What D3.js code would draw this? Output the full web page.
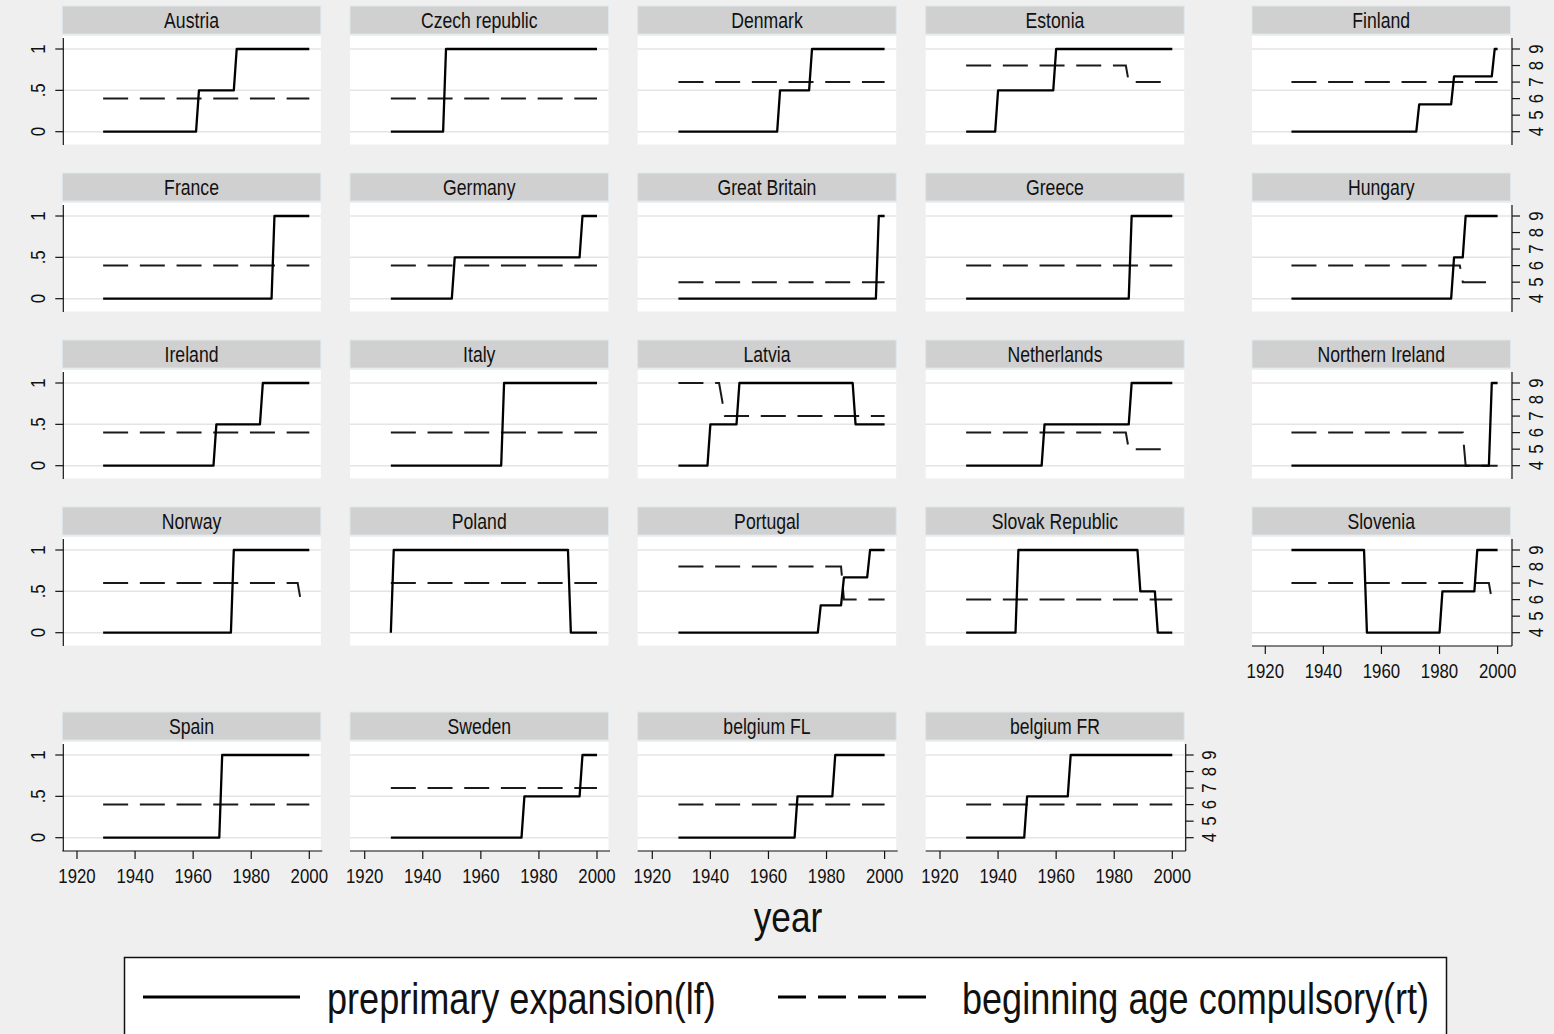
<!DOCTYPE html>
<html>
<head>
<meta charset="utf-8">
<script src="https://cdn.jsdelivr.net/npm/d3@7"></script>
<style>
  html, body { margin: 0; padding: 0; background: #efefef; }
  svg { display: block; }
</style>
</head>
<body>
<svg id="chart" width="1554" height="1034"></svg>
<script>
// ---------------- DATA ----------------
const countries = ["Austria", "Czech republic", "Denmark", "Estonia", "Finland",
  "France", "Germany", "Great Britain", "Greece", "Hungary",
  "Ireland", "Italy", "Latvia", "Netherlands", "Northern Ireland",
  "Norway", "Poland", "Portugal", "Slovak Republic", "Slovenia",
  "Spain", "Sweden", "belgium FL", "belgium FR"];

// preprimary expansion (left axis, 0-1): [year, value] vertices
const preprimary = [
  [[1929,0],[1961,0],[1962,0.5],[1974,0.5],[1975,1],[2000,1]],
  [[1929,0],[1947,0],[1948,1],[2000,1]],
  [[1929,0],[1963,0],[1964,0.5],[1974,0.5],[1975,1],[2000,1]],
  [[1929,0],[1939,0],[1940,0.5],[1959,0.5],[1960,1],[2000,1]],
  [[1929,0],[1972,0],[1973,0.33],[1984,0.33],[1985,0.67],[1998,0.67],[1999,1],[2000,1]],
  [[1929,0],[1987,0],[1988,1],[2000,1]],
  [[1929,0],[1950,0],[1951,0.5],[1994,0.5],[1995,1],[2000,1]],
  [[1929,0],[1997,0],[1998,1],[2000,1]],
  [[1929,0],[1985,0],[1986,1],[2000,1]],
  [[1929,0],[1984,0],[1985,0.5],[1988,0.5],[1989,1],[2000,1]],
  [[1929,0],[1967,0],[1968,0.5],[1983,0.5],[1984,1],[2000,1]],
  [[1929,0],[1967,0],[1968,1],[2000,1]],
  [[1929,0],[1939,0],[1940,0.5],[1949,0.5],[1950,1],[1989,1],[1990,0.5],[2000,0.5]],
  [[1929,0],[1955,0],[1956,0.5],[1985,0.5],[1986,1],[2000,1]],
  [[1929,0],[1997,0],[1998,1],[2000,1]],
  [[1929,0],[1973,0],[1974,1],[2000,1]],
  [[1929,0],[1930,1],[1990,1],[1991,0],[2000,0]],
  [[1929,0],[1977,0],[1978,0.33],[1985,0.33],[1986,0.67],[1994,0.67],[1995,1],[2000,1]],
  [[1929,0],[1946,0],[1947,1],[1988,1],[1989,0.5],[1994,0.5],[1995,0],[2000,0]],
  [[1929,1],[1954,1],[1955,0],[1980,0],[1981,0.5],[1992,0.5],[1993,1],[2000,1]],
  [[1929,0],[1969,0],[1970,1],[2000,1]],
  [[1929,0],[1974,0],[1975,0.5],[1994,0.5],[1995,1],[2000,1]],
  [[1929,0],[1969,0],[1970,0.5],[1982,0.5],[1983,1],[2000,1]],
  [[1929,0],[1949,0],[1950,0.5],[1964,0.5],[1965,1],[2000,1]]
];

// beginning age compulsory (right axis, 4-9): [year, age] vertices
const beginAge = [
  [[1929,6],[2000,6]],
  [[1929,6],[2000,6]],
  [[1929,7],[2000,7]],
  [[1929,8],[1984,8],[1985,7],[2000,7]],
  [[1929,7],[2000,7]],
  [[1929,6],[2000,6]],
  [[1929,6],[2000,6]],
  [[1929,5],[2000,5]],
  [[1929,6],[2000,6]],
  [[1929,6],[1987,6],[1988,5],[2000,5]],
  [[1929,6],[2000,6]],
  [[1929,6],[2000,6]],
  [[1929,9],[1943,9],[1945,7],[2000,7]],
  [[1929,6],[1984,6],[1985,5],[2000,5]],
  [[1929,6],[1988,6],[1989,4],[2000,4]],
  [[1929,7],[1996,7],[1997,6],[2000,6]],
  [[1929,7],[2000,7]],
  [[1929,8],[1985,8],[1986,6],[2000,6]],
  [[1929,6],[2000,6]],
  [[1929,7],[1997,7],[1998,6],[2000,6]],
  [[1929,6],[2000,6]],
  [[1929,7],[2000,7]],
  [[1929,6],[2000,6]],
  [[1929,6],[2000,6]]
];

const leftTicks = [0, 0.5, 1];
const leftTickLabels = ["0", ".5", "1"];
const rightTicks = [4, 5, 6, 7, 8, 9];
const yearTicks = [1920, 1940, 1960, 1980, 2000];
const xTitle = "year";
const legendLabels = ["preprimary expansion(lf)", "beginning age compulsory(rt)"];

// ---------------- LAYOUT ----------------
const svg = d3.select("#chart");
svg.append("rect").attr("width", 1554).attr("height", 1034).attr("fill", "#efefef");

// font detection
const probe = svg.append("text").attr("x", -1000).attr("y", -1000).style("font-size", "20px").text("abcdefghij 1920 Austria");
probe.style("font-family", '"Liberation Sans Narrow", monospace');
const wNarrow = probe.node().getComputedTextLength();
probe.style("font-family", "monospace");
const wMono = probe.node().getComputedTextLength();
probe.remove();
const hasNarrow = Math.abs(wNarrow - wMono) > 1;
const FONT = hasNarrow ? '"Liberation Sans Narrow"' : '"Liberation Sans", Arial, sans-serif';
const SX = hasNarrow ? 1 : 0.82;

function addText(parent, x, y, str, size, anchor, rot) {
  return parent.append("text")
    .attr("transform", `translate(${x},${y}) rotate(${rot || 0}) scale(${SX},1)`)
    .attr("text-anchor", anchor || "middle")
    .style("font-family", FONT)
    .style("font-size", size + "px")
    .attr("fill", "#111")
    .text(str);
}

const colX1920 = [77, 364.7, 652.3, 940, 1265.3];
const plotLeft = [62.3, 350, 637.7, 925.7, 1252];
const rowTop = [6, 173, 340, 507, 712];
const PW = 258.5;
const pxPerYear = 232.3 / 80;

countries.forEach((name, i) => {
  const row = i < 20 ? Math.floor(i / 5) : 4;
  const col = i < 20 ? i % 5 : i - 20;
  const T = rowTop[row];
  const L = plotLeft[col];
  const R = L + PW;
  const g = svg.append("g");

  const x = d3.scaleLinear().domain([1920, 2000]).range([colX1920[col], colX1920[col] + 80 * pxPerYear]);
  const yL = d3.scaleLinear().domain([0, 1]).range([T + 125.7, T + 43]);
  const yR = d3.scaleLinear().domain([4, 9]).range([T + 125.7, T + 43]);

  // title bar
  g.append("rect").attr("x", L).attr("y", T).attr("width", PW).attr("height", 28)
    .attr("fill", "#d0d0d0").attr("stroke", "#dde7ee").attr("stroke-width", 1);
  addText(g, L + PW / 2, T + 21.7, name, 21.5, "middle");

  // plot region
  g.append("rect").attr("x", L).attr("y", T + 30).attr("width", PW).attr("height", 108.5).attr("fill", "#ffffff");

  // gridlines
  g.selectAll(".grid").data(leftTicks).enter().append("line")
    .attr("x1", L).attr("x2", R)
    .attr("y1", d => yL(d)).attr("y2", d => yL(d))
    .attr("stroke", "#e4e4e4").attr("stroke-width", 1.5);

  // left axis
  if (col === 0) {
    g.append("line").attr("x1", L + 1).attr("x2", L + 1).attr("y1", T + 32).attr("y2", T + 139)
      .attr("stroke", "#111").attr("stroke-width", 1.2);
    leftTicks.forEach((t, k) => {
      g.append("line").attr("x1", L - 7).attr("x2", L + 1).attr("y1", yL(t)).attr("y2", yL(t))
        .attr("stroke", "#111").attr("stroke-width", 1.2);
      addText(g, L - 17, yL(t), leftTickLabels[k], 20.5, "middle", -90);
    });
  }

  // right axis
  if (col === 4 || i === countries.length - 1) {
    const ax = R + 1.5;
    g.append("line").attr("x1", ax).attr("x2", ax).attr("y1", T + 32).attr("y2", T + 139)
      .attr("stroke", "#111").attr("stroke-width", 1.2);
    rightTicks.forEach(t => {
      g.append("line").attr("x1", ax).attr("x2", ax + 8).attr("y1", yR(t)).attr("y2", yR(t))
        .attr("stroke", "#111").attr("stroke-width", 1.2);
      addText(g, ax + 30.5, yR(t), String(t), 20.5, "middle", -90);
    });
  }

  // bottom axis
  if (row === 4 || i === 19) {
    const by = T + 139;
    g.append("line").attr("x1", L).attr("x2", R + 1.5).attr("y1", by).attr("y2", by)
      .attr("stroke", "#111").attr("stroke-width", 1.2);
    yearTicks.forEach(t => {
      g.append("line").attr("x1", x(t)).attr("x2", x(t)).attr("y1", by).attr("y2", by + 8)
        .attr("stroke", "#111").attr("stroke-width", 1.2);
      addText(g, x(t), T + 171, String(t), 20.5, "middle");
    });
  }

  // series
  const lineL = d3.line().x(d => x(d[0])).y(d => yL(d[1]));
  const lineR = d3.line().x(d => x(d[0])).y(d => yR(d[1]));
  g.append("path").attr("d", lineR(beginAge[i])).attr("fill", "none")
    .attr("stroke", "#1a1a1a").attr("stroke-width", 2).attr("stroke-dasharray", "25,11.7");
  g.append("path").attr("d", lineL(preprimary[i])).attr("fill", "none")
    .attr("stroke", "#000").attr("stroke-width", 2.3).attr("stroke-linejoin", "round");
});

// x title
addText(svg, 788, 932, xTitle, 43, "middle");

// legend
const lg = svg.append("g");
lg.append("rect").attr("x", 124.5).attr("y", 957.5).attr("width", 1322).attr("height", 100)
  .attr("fill", "#fff").attr("stroke", "#111").attr("stroke-width", 1.5);
lg.append("line").attr("x1", 143).attr("x2", 300).attr("y1", 997).attr("y2", 997)
  .attr("stroke", "#000").attr("stroke-width", 3);
lg.append("line").attr("x1", 778).attr("x2", 938).attr("y1", 997).attr("y2", 997)
  .attr("stroke", "#000").attr("stroke-width", 3).attr("stroke-dasharray", "28,12");
addText(lg, 327, 1014, legendLabels[0], 44, "start");
addText(lg, 962, 1014, legendLabels[1], 44, "start");
</script>
</body>
</html>
